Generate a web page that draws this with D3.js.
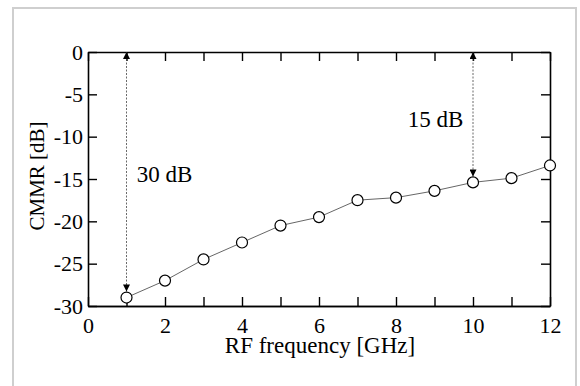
<!DOCTYPE html>
<html>
<head>
<meta charset="utf-8">
<script src="https://cdn.jsdelivr.net/npm/d3@7"></script>
<style>
  body { margin: 0; background: #fff; }
  .ser { font-family: 'Liberation Serif', serif; fill: #000; }
</style>
</head>
<body>
<div id="chart"></div>
<script>
// Data
const freqGHz = [1, 2, 3, 4, 5, 6, 7, 8, 9, 10, 11, 12];
const cmmrDb = [-29.0, -27.0, -24.5, -22.5, -20.5, -19.5, -17.5, -17.2, -16.4, -15.4, -14.9, -13.4];
const xTicks = [0, 1, 2, 3, 4, 5, 6, 7, 8, 9, 10, 11, 12];
const xTickLabels = [0, 2, 4, 6, 8, 10, 12];
const yTicks = [0, -5, -10, -15, -20, -25, -30];
const spans = [{ x: 1, label: '30 dB' }, { x: 10, label: '15 dB' }];

const W = 580, H = 386;
const margin = { top: 52, right: 30, bottom: 80, left: 88 };
const width = W - margin.left - margin.right;
const height = H - margin.top - margin.bottom;

const svg = d3.select('#chart').append('svg')
  .attr('width', W).attr('height', H);

// outer light frame (runs off the bottom edge)
svg.append('rect')
  .attr('x', 13).attr('y', 8).attr('width', 563).attr('height', 400)
  .attr('fill', 'none').attr('stroke', '#cfcfcf').attr('stroke-width', 2);

const defs = svg.append('defs');
defs.append('marker')
  .attr('id', 'arr').attr('viewBox', '0 0 10 10')
  .attr('refX', 10).attr('refY', 5)
  .attr('markerWidth', 8).attr('markerHeight', 7)
  .attr('markerUnits', 'userSpaceOnUse')
  .attr('orient', 'auto-start-reverse')
  .append('path').attr('d', 'M0,0L10,5L0,10z').attr('fill', '#000');

const g = svg.append('g').attr('transform', `translate(${margin.left},${margin.top})`);

const x = d3.scaleLinear().domain([0, 12]).range([0, width]);
const y = d3.scaleLinear().domain([-30, 0]).range([height, 0]);

const tickLen = 9;

function styleAxis(sel) {
  sel.attr('font-family', null);
  sel.select('.domain').attr('stroke', '#000').attr('stroke-width', 1.6);
  sel.selectAll('.tick line').attr('stroke', '#000').attr('stroke-width', 1.4);
  sel.selectAll('.tick text').attr('class', 'ser').style('font-size', '22px');
}

// bottom: minor ticks, then labelled ticks
g.append('g').attr('transform', `translate(0,${height})`)
  .call(d3.axisBottom(x).tickValues(xTicks.filter(t => !xTickLabels.includes(t))).tickFormat('').tickSizeInner(-tickLen).tickSizeOuter(0))
  .call(styleAxis)
  .call(a => a.selectAll('.tick text').remove());
g.append('g').attr('transform', `translate(0,${height})`)
  .call(d3.axisBottom(x).tickValues(xTickLabels).tickSizeInner(-tickLen).tickSizeOuter(0).tickPadding(11))
  .call(styleAxis);
// top
g.append('g')
  .call(d3.axisTop(x).tickValues(xTicks).tickFormat('').tickSizeInner(-tickLen).tickSizeOuter(0))
  .call(styleAxis)
  .call(a => a.selectAll('.tick text').remove());
// left
g.append('g')
  .call(d3.axisLeft(y).tickValues(yTicks).tickFormat(d => d).tickSizeInner(-tickLen).tickSizeOuter(0).tickPadding(5))
  .call(styleAxis);
// right
g.append('g').attr('transform', `translate(${width},0)`)
  .call(d3.axisRight(y).tickValues(yTicks).tickFormat('').tickSizeInner(-tickLen).tickSizeOuter(0))
  .call(styleAxis)
  .call(a => a.selectAll('.tick text').remove());

const r = 5.5;

// span arrows
spans.forEach(s => {
  const i = freqGHz.indexOf(s.x);
  g.append('line')
    .attr('x1', x(s.x)).attr('x2', x(s.x))
    .attr('y1', y(0)).attr('y2', y(cmmrDb[i]) - r - 0.5)
    .attr('stroke', '#444').attr('stroke-width', 0.8)
    .attr('stroke-dasharray', '2,1.5')
    .attr('marker-start', 'url(#arr)').attr('marker-end', 'url(#arr)');
});

g.append('text').attr('class', 'ser').attr('x', x(1.265)).attr('y', y(-15.3))
  .style('font-size', '23px').text(spans[0].label);
g.append('text').attr('class', 'ser').attr('x', x(9.75)).attr('y', y(-8.85))
  .attr('text-anchor', 'end').style('font-size', '23px').text(spans[1].label);

// line
g.append('path')
  .datum(freqGHz.map((f, i) => [f, cmmrDb[i]]))
  .attr('fill', 'none').attr('stroke', '#555').attr('stroke-width', 0.9)
  .attr('d', d3.line().x(d => x(d[0])).y(d => y(d[1])));

// markers
g.selectAll('circle.pt')
  .data(freqGHz.map((f, i) => [f, cmmrDb[i]]))
  .enter().append('circle')
  .attr('class', 'pt')
  .attr('cx', d => x(d[0])).attr('cy', d => y(d[1]))
  .attr('r', r)
  .attr('fill', '#fff').attr('stroke', '#000').attr('stroke-width', 1.2);

// axis titles
g.append('text').attr('class', 'ser')
  .attr('x', 320 - margin.left).attr('y', 353 - margin.top)
  .attr('text-anchor', 'middle').style('font-size', '23px')
  .text('RF frequency [GHz]');
g.append('text').attr('class', 'ser')
  .attr('transform', `translate(${44 - margin.left},${176 - margin.top}) rotate(-90)`)
  .attr('text-anchor', 'middle').style('font-size', '21px')
  .text('CMMR [dB]');
</script>
</body>
</html>
